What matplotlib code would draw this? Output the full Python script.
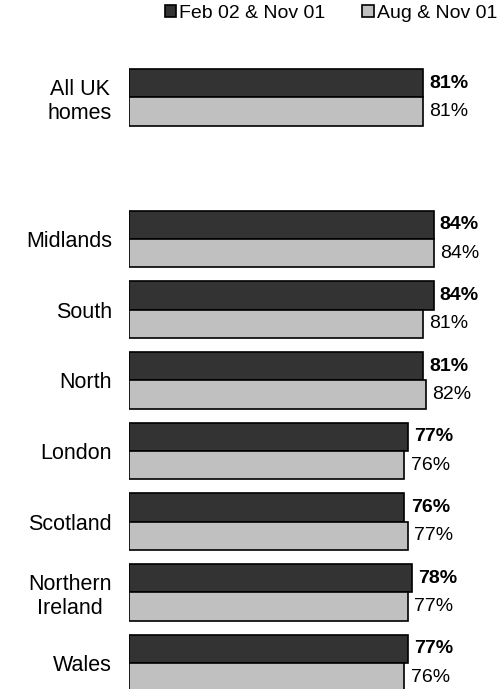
import numpy as np
import matplotlib.pyplot as plt
from matplotlib.patches import Patch

plt.rcParams['font.family'] = ['Liberation Sans', 'DejaVu Sans']

# Regions (top to bottom); slot 1 is left empty as a spacer
regions = ["All UK\nhomes", "Midlands", "South", "North", "London",
           "Scotland", "Northern\nIreland", "Wales"]
slots = [0, 2, 3, 4, 5, 6, 7, 8]
feb02 = [81, 84, 84, 81, 77, 76, 78, 77]
aug = [81, 84, 81, 82, 76, 77, 77, 76]
series_names = ["Feb 02 & Nov 01", "Aug & Nov 01"]

dark = "#333333"
light = "#c0c0c0"

fig = plt.figure(figsize=(5.04, 6.89), dpi=100)
ax = fig.add_axes([128.5 / 504, 0, 1 - 128.5 / 504, 1])

pos = np.array(slots, dtype=float)
h = 0.4
ax.barh(pos - h / 2, feb02, height=h, color=dark, edgecolor="black", linewidth=1.2)
ax.barh(pos + h / 2, aug, height=h, color=light, edgecolor="black", linewidth=1.2)

for y, v in zip(pos, feb02):
    ax.annotate(f"{v}%", (v, y - h / 2), xytext=(4.5, 0), textcoords="offset points",
                ha="left", va="center", fontsize=14, fontweight="bold")
for y, v in zip(pos, aug):
    ax.annotate(f"{v}%", (v, y + h / 2), xytext=(4.5, 0), textcoords="offset points",
                ha="left", va="center", fontsize=14)

ax.set_xlim(0, 103.4)
ax.set_ylim(8.366, -1.379)
ax.set_yticks(pos)
ax.set_yticklabels(regions, fontsize=15.5)
for t in ax.get_yticklabels():
    t.set_multialignment("center")
ax.tick_params(axis="y", length=0, pad=12)
ax.set_xticks([])
for s in ax.spines.values():
    s.set_visible(False)

handles = [Patch(facecolor=dark, edgecolor="black", linewidth=1.2),
           Patch(facecolor=light, edgecolor="black", linewidth=1.2)]
fig.legend(handles, series_names, loc="upper right", bbox_to_anchor=(1.01, 1.01),
           ncol=2, frameon=False, fontsize=14, handlelength=0.6, handleheight=0.6,
           handletextpad=0.15, columnspacing=1.9, borderaxespad=0.2)

fig.savefig("out.png", dpi=100)
